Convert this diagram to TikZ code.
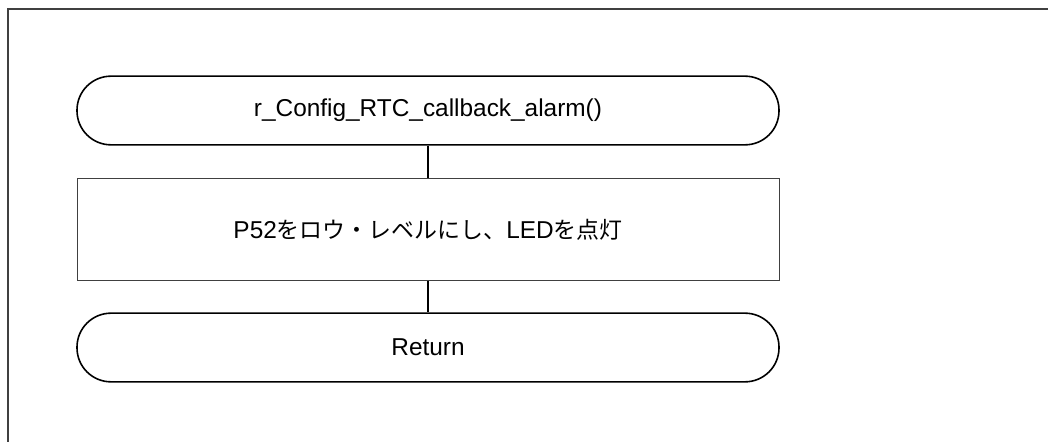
\documentclass[tikz,border=0pt]{standalone}
\usepackage{fontspec}
\setmainfont{Liberation Sans}
\newfontfamily\jpfont[Scale=0.94]{Noto Sans CJK JP}
\begin{document}
\begin{tikzpicture}[x=0.75pt,y=-0.75pt,
    every node/.style={font=\fontsize{18.3}{22}\selectfont, inner sep=0pt},
    terminal/.style={draw=black, line width=1.2pt, rounded corners=25.5pt,
        minimum width=526.5pt, minimum height=51.5pt},
    procbox/.style={draw=black!75, line width=0.75pt,
        minimum width=526.5pt, minimum height=77pt},
    flowline/.style={draw=black, line width=1.4pt}]
    \useasboundingbox (0,0) rectangle (1048,442);
    \draw[black!75, line width=1.3pt] (8,443) -- (8,9) -- (1049,9);

    \node[terminal] (start) at (428,110.5) {r\_Config\_RTC\_callback\_alarm()};
    \node[procbox] (led) at (428,229.5) {P52{\jpfont をロウ・レベルにし、}LED{\jpfont を点灯}};
    \node[terminal] (return) at (428,347.5) {Return};

    \draw[flowline] (start) -- (led);
    \draw[flowline] (led) -- (return);
\end{tikzpicture}
\end{document}
